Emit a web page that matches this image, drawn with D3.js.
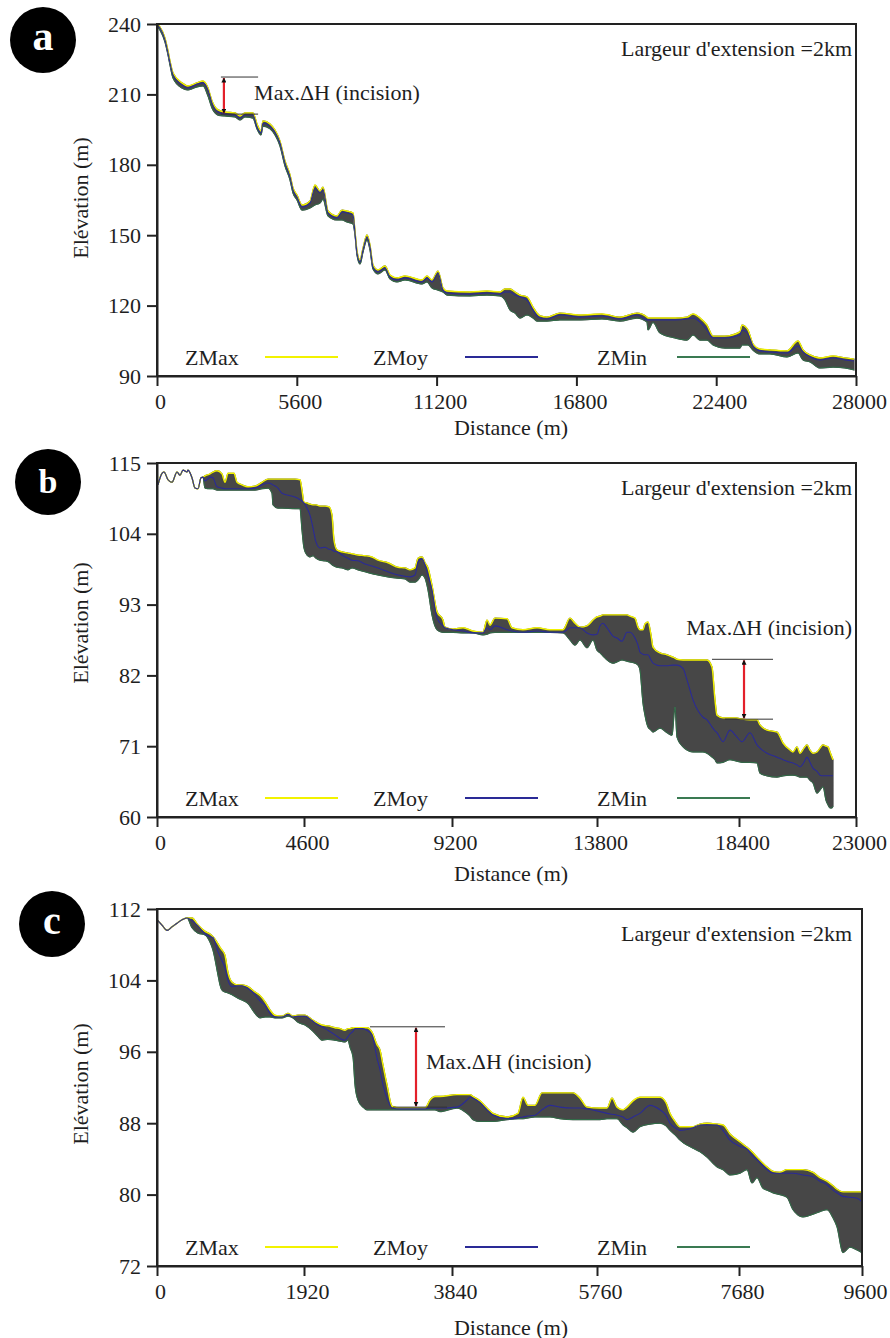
<!DOCTYPE html>
<html><head><meta charset="utf-8">
<script src="https://cdn.jsdelivr.net/npm/d3@7"></script>
<style>
body{margin:0;background:#fff}
svg{display:block}
text{font-family:"Liberation Serif","Times New Roman",serif;fill:#1e1e1e}
</style>
</head><body>
<svg id="chart" width="890" height="1338"></svg>
<script>
// ---------------- DATA ----------------
// Panel a
const xTicksA = [0, 5600, 11200, 16800, 22400, 28000];
const yTicksA = [90, 120, 150, 180, 210, 240];
const distA = [0,120,320,441,521,641,1001,1242,1602,1843,
2043,2203,2443,2724,3124,3325,3525,3845,4006,4166,
4246,4526,4727,4927,5127,5328,5448,5608,5808,6129,
6329,6529,6649,6850,7210,7411,7611,7851,7931,8011,
8132,8252,8412,8532,8652,8853,9133,9333,9614,9934,
10615,10815,11016,11256,11456,11617,12538,13219,13740,13940,
14140,14340,14541,14821,15061,15222,15342,15622,16143,16944,
17825,18546,19227,19628,19668,19868,20149,20750,21230,21471,
21751,22031,22272,22752,23353,23433,23674,23874,24154,24555,
25236,25677,25877,26157,26558,27079,27559,27920];
const zmaxA = [240,238.7,234.0,228.5,224.2,219.1,214.9,213.6,214.9,215.7,
212.7,207.2,203.4,202.5,202.1,200.8,202.1,202.1,197.4,194.4,
198.7,197.4,194.8,190.1,181.6,175.7,170.1,167.1,162.9,164.6,
171.4,168.8,170.5,160.3,158.2,160.7,160.3,159.5,151.8,143.3,
139.4,144.5,150.1,145.8,137.3,135.2,136.9,133.0,131.8,132.6,
130.9,132.6,130.9,134.7,127.5,126.2,125.8,126.2,125.8,127.1,
127.1,125.8,124.5,123.7,119.4,116.8,115.6,115.1,116.8,116.0,
116.4,115.1,116.8,115.1,114.7,114.7,114.7,114.7,115.1,116.4,
114.7,111.7,107.0,107.0,108.8,111.7,109.6,103.6,101.5,101.1,
100.7,104.9,101.1,99.0,97.7,98.5,97.7,97.2];
const zmoyA = [239.6,238.3,233.2,227.6,223.4,218.3,214.0,212.7,214.4,214.9,
211.9,206.3,202.5,201.6,201.2,199.9,201.2,201.2,196.1,193.6,
197.8,196.5,194.0,189.3,180.8,174.8,169.3,166.3,162.0,163.7,
170.1,168.0,169.3,159.5,157.3,159.9,159.5,158.6,150.9,142.4,
138.6,143.7,149.2,145.0,136.4,134.3,136.0,132.2,130.9,131.8,
130.1,131.8,130.1,133.9,126.6,125.4,124.9,125.4,124.9,125.8,
125.8,124.5,123.7,122.4,118.1,115.6,114.7,114.3,116.0,115.1,
115.6,114.3,116.0,113.9,113.9,113.9,113.9,113.9,114.3,114.7,
113.0,109.6,106.2,106.2,107.5,109.6,107.9,102.8,100.7,100.2,
99.8,102.8,100.2,98.1,96.8,97.7,96.8,96.4];
const zminA = [239.1,237.4,232.3,226.8,222.5,217.0,212.7,211.9,213.2,213.6,
209.3,204.2,201.2,200.8,200.4,199.1,200.4,199.9,195.3,192.7,
196.5,195.3,192.7,188.0,179.5,173.5,168.0,165.0,160.7,161.6,
162.9,163.7,165.4,158.2,156.5,156.5,155.6,154.8,150.1,141.6,
137.7,142.8,148.0,143.7,135.6,133.5,135.2,131.3,130.1,130.9,
129.2,130.1,127.5,126.6,125.8,124.5,124.1,124.5,124.1,122.4,
118.1,116.8,114.7,116.0,114.7,113.4,113.4,113.4,113.9,113.9,
114.3,113.4,114.7,113.0,109.6,112.8,108.3,106.2,105.3,107.5,
105.3,105.3,103.2,101.9,101.9,103.2,103.2,101.0,99.4,99.4,
98.1,99.8,96.8,96.0,93.4,93.8,93.4,92.6];
const annotA = {x0: 2560, x1: 4050, xArrow: 2680, hTop: 217.4, hBottom: 201.6, textX: 3890, textY: 210.6};

// Panel b
const xTicksB = [0, 4600, 9200, 13800, 18400, 23000];
const yTicksB = [60, 71, 82, 93, 104, 115];
const distB = [31,156,219,344,469,626,720,814,939,970,1095,1189,1283,1377,1439,
1502,1659,1752,1878,2034,2128,2222,2410,2503,2660,
2848,3067,3286,3474,3599,3630,3786,3912,4318,4475,
4537,4600,4693,4786,4880,4973,5097,5253,5377,5470,
5532,5626,5781,5968,6092,6278,6496,6714,6900,7211,
7522,7739,7895,8050,8143,8268,8361,8454,8578,8734,
8920,8982,9232,9549,9866,10183,10310,10405,10564,10945,
11103,11452,11897,12309,12721,12943,13102,13261,13483,13673,
13800,13897,13994,14124,14318,14448,14610,14772,14869,15031,
15128,15193,15290,15355,15452,15549,15614,15841,16068,16230,
16327,16392,16586,16715,16910,17234,17363,17525,17622,17687,
17882,18108,18303,18518,18832,19108,19226,19501,19894,20130,
20405,20521,20680,20798,20955,21073,21191,21309,21467,21586,
21703,21821,21899,21978,22056,22096];
const zmaxB = [111.6,113.4,113.6,112.4,112.0,113.6,113.1,113.9,113.6,113.9,112.7,111.1,111.0,112.7,112.8,
113.0,113.3,113.6,113.8,113.3,112.0,113.4,113.4,112.0,111.6,
111.3,111.4,112.0,112.5,112.5,112.5,112.5,112.5,112.5,112.4,
110.8,108.9,108.8,108.6,108.5,108.5,108.3,108.3,108.2,106.9,
103.0,101.5,101.2,101.0,100.9,100.7,100.6,100.4,99.9,99.5,
98.8,98.7,98.4,98.7,100.2,100.4,99.5,98.7,96.0,91.9,
90.6,89.5,89.2,89.4,88.9,88.7,90.6,89.8,90.9,90.8,
89.4,89.1,89.4,89.1,89.1,90.9,90.1,89.5,89.7,90.6,
91.1,91.2,91.4,91.4,91.4,91.4,91.4,91.4,91.2,90.9,
89.5,89.1,89.1,90.0,90.3,88.3,86.4,85.5,85.2,84.9,
84.7,84.5,84.4,84.4,84.4,84.4,84.4,83.3,78.2,75.8,
75.4,75.4,75.4,75.2,75.1,75.1,74.3,73.5,73.2,71.5,
70.4,70.1,70.9,69.9,70.7,71.2,70.4,69.9,70.1,70.7,
71.2,71.0,70.9,70.1,69.3,68.9];
const zmoyB = [111.6,113.4,113.6,112.4,112.0,113.6,113.1,113.9,113.6,113.9,112.7,111.1,111.0,112.7,112.8,
112.2,112.8,112.7,111.3,111.1,111.0,111.0,111.0,111.0,111.0,
111.0,111.1,111.6,111.9,111.7,111.6,111.1,110.3,109.7,109.3,
109.1,108.8,108.0,106.9,104.9,102.7,101.8,101.9,101.6,101.5,
101.3,101.2,100.7,100.2,99.9,99.8,99.3,99.0,98.7,98.1,
97.6,97.4,97.3,97.6,99.6,100.1,99.2,97.6,95.3,90.9,
89.7,89.4,89.1,88.9,88.6,88.6,89.4,89.1,89.7,89.1,
88.9,88.7,88.9,88.7,88.7,89.4,89.4,89.4,88.6,88.3,
88.4,89.7,90.1,89.4,88.1,87.8,87.3,88.7,88.7,87.8,
86.7,85.6,85.3,85.2,85.2,84.4,83.9,83.5,83.5,83.6,
83.6,83.6,83.1,81.3,78.2,75.5,75.1,74.0,73.4,73.1,
71.7,73.5,72.6,71.7,73.1,71.2,70.7,69.9,69.3,68.9,
68.5,68.4,68.1,67.8,68.5,69.3,68.5,67.6,67.1,66.5,
66.4,66.4,66.4,66.4,66.4,66.4];
const zminB = [111.6,113.4,113.6,112.4,112.0,113.6,113.1,113.9,113.6,113.9,112.7,111.1,111.0,112.7,112.8,
111.1,111.0,111.0,110.8,110.8,110.8,110.8,110.8,110.8,110.8,
110.8,110.8,111.0,111.1,110.3,108.5,108.0,108.0,107.9,107.9,
104.6,101.8,100.7,100.4,100.6,100.2,99.9,99.8,99.6,99.2,
99.0,98.8,98.7,98.4,98.7,98.4,98.1,97.8,97.6,97.3,
97.1,97.0,96.5,96.5,96.8,97.6,97.1,95.3,91.4,89.1,
88.7,88.7,88.7,88.6,88.6,88.3,88.4,88.6,88.7,88.7,
88.7,88.7,88.7,88.7,88.6,87.5,86.7,87.5,86.3,87.5,
85.9,85.5,85.0,84.4,83.9,84.1,84.4,84.2,84.1,83.9,
83.6,82.8,77.7,75.8,74.0,73.5,73.2,73.8,73.1,72.7,
77.1,72.4,70.9,70.4,70.1,70.1,69.9,69.3,68.9,68.4,
68.5,68.9,68.7,68.5,68.5,68.4,66.8,66.4,66.2,66.4,
66.5,66.5,66.4,66.2,66.2,66.2,65.7,65.3,63.7,64.2,
64.7,62.6,61.9,61.4,61.4,61.7];
const annotB = {x0: 17525, x0b: 17946, x1: 19737, xArrow: 18597, hTop: 84.5, hBottom: 75.2, textY: 89.5};

// Panel c
const xTicksC = [0, 1920, 3840, 5760, 7680, 9600];
const yTicksC = [72, 80, 88, 96, 104, 112];
const distC = [0,65,131,196,261,327,392,
457,536,627,692,731,797,823,849,888,927,
980,1058,1110,1189,1280,1345,1411,1476,1541,1633,
1711,1776,1842,1933,2024,2102,2154,2231,2322,2387,
2452,2491,2517,2556,2582,2621,2685,2737,2802,2867,
2906,2945,2997,3062,3165,3360,3490,3555,3619,3684,
3906,4039,4078,4118,4211,4303,4383,4568,4714,4780,
4846,4939,5032,5138,5270,5442,5535,5628,5801,5895,
5963,6030,6112,6166,6247,6341,6477,6612,6693,6747,
6815,6882,7058,7153,7247,7383,7464,7558,7696,7805,
7883,7961,8055,8117,8211,8320,8429,8523,8679,8835,
8944,9054,9147,9210,9303,9413,9522,9600];
const zmaxC = [110.8,110.2,109.6,110.0,110.4,110.8,111.0,
111.0,110.2,109.5,109.2,108.9,108.1,107.7,107.4,106.8,104.9,
103.8,103.5,103.5,103.3,102.7,102.3,101.6,100.7,100.1,100.0,
100.3,100.0,100.1,100.1,99.6,99.2,99.0,98.9,98.7,98.6,
98.4,98.6,98.6,98.7,98.7,98.7,98.7,98.7,98.2,96.8,
96.2,94.5,92.3,89.9,89.7,89.7,89.7,90.6,91.0,91.0,
91.2,91.2,91.2,91.0,90.5,89.7,89.1,88.7,89.1,90.9,
90.0,90.0,91.4,91.4,91.4,91.4,90.8,89.8,89.7,89.7,
90.8,89.8,89.5,89.8,90.5,90.9,90.9,90.9,90.3,89.1,
88.2,87.6,87.6,87.9,88.0,87.9,87.8,86.8,85.9,85.3,
84.8,84.2,83.5,83.1,82.6,82.5,82.8,82.8,82.8,82.5,
81.9,81.5,81.0,80.6,80.3,80.3,80.3,80.3];
const zmoyC = [110.8,110.2,109.6,110.0,110.4,110.8,111.0,
110.7,110.1,109.2,108.9,108.8,107.2,106.7,106.2,105.4,104.0,
103.3,103.4,103.4,103.1,102.4,101.7,101.2,100.3,99.9,99.9,
100.2,99.9,100.0,100.0,99.5,99.0,98.8,98.4,97.9,97.5,
97.3,97.7,98.0,98.3,98.6,98.6,98.6,98.4,97.9,95.3,
94.0,92.3,90.8,89.7,89.6,89.6,89.6,89.7,89.7,89.7,
89.8,90.6,90.9,90.8,90.3,89.5,88.9,88.5,88.6,88.7,
88.8,88.9,89.5,90.0,89.8,89.7,89.7,89.6,89.3,89.1,
89.0,88.9,88.7,88.4,88.7,89.1,90.0,89.5,88.9,88.0,
87.5,87.2,87.5,87.8,87.8,87.8,87.2,86.1,85.4,85.1,
84.4,83.9,83.2,82.8,82.4,82.4,82.4,82.4,82.2,82.0,
81.5,81.1,80.5,80.2,79.8,79.7,79.6,79.2];
const zminC = [110.8,110.2,109.6,110.0,110.4,110.8,111.0,
109.9,109.3,109.1,108.3,107.4,104.6,103.5,102.9,102.7,102.6,
102.4,102.0,101.8,101.4,100.3,99.8,99.9,99.9,99.8,99.8,
100.0,99.8,99.3,99.0,98.4,97.7,97.3,97.4,97.3,97.2,
97.1,97.3,96.5,95.4,92.3,90.6,89.8,89.5,89.5,89.5,
89.5,89.5,89.5,89.5,89.5,89.5,89.5,89.5,89.5,89.3,
89.7,89.1,88.8,88.4,88.2,88.2,88.2,88.4,88.5,88.5,
88.6,88.7,88.7,88.7,88.5,88.4,88.4,88.4,88.4,88.5,
88.5,88.5,87.8,87.5,87.0,87.6,87.9,88.0,87.7,87.2,
86.7,86.1,85.2,84.8,84.2,83.1,82.8,82.2,82.4,82.8,
81.3,81.9,80.7,80.5,80.2,80.0,79.7,78.3,77.5,77.8,
78.1,78.3,77.4,76.4,73.5,74.1,73.8,73.5];
const annotC = {x0: 2776, x1: 3749, x0b: 3075, x1b: 3775, xArrow: 3373, hTop: 98.8, hBottom: 89.8, textX: 3503, textY: 94.9};

const legendNames = ["ZMax", "ZMoy", "ZMin"];
const extensionLabel = "Largeur d'extension =2km";
const incisionLabel = "Max.\u0394H (incision)";

// ---------------- DRAW ----------------
const svg = d3.select("#chart");
const defs = svg.append("defs");
defs.append("marker").attr("id","ah").attr("viewBox","0 0 10 10").attr("refX",9).attr("refY",5)
  .attr("markerWidth",5).attr("markerHeight",5).attr("orient","auto-start-reverse").attr("markerUnits","userSpaceOnUse")
  .append("path").attr("d","M0,0 L10,5 L0,10 z").attr("fill","#111");

const COLORS = {band:"#474747", max:"#f2f200", moy:"#2a2a96", min:"#2f7048"};
const L = 157;
const TEXT_RIGHT = 852;

function drawPanel(p) {
  const g = svg.append("g");
  const x = d3.scaleLinear().domain(p.xTicks).range(p.xOffsets.map(o => L + o));
  const y = d3.scaleLinear().domain([p.yTicks[0], p.yTicks[p.yTicks.length-1]]).range([p.bottom, p.top]);
  const right = L + p.xOffsets[p.xOffsets.length-1];
  const idx = d3.range(p.dist.length);

  const clipId = "clip" + p.letter;
  defs.append("clipPath").attr("id", clipId).append("rect")
    .attr("x", L).attr("y", p.top).attr("width", right - L).attr("height", p.bottom - p.top);

  const plot = g.append("g").attr("clip-path", `url(#${clipId})`);
  const area = d3.area().x(i => x(p.dist[i])).y0(i => y(p.zmin[i])).y1(i => y(p.zmax[i])).curve(d3.curveMonotoneX);
  plot.append("path").attr("d", area(idx)).attr("fill", COLORS.band).attr("stroke", COLORS.band).attr("stroke-width", 1.2);
  const line = arr => d3.line().x(i => x(p.dist[i])).y(i => y(arr[i])).curve(d3.curveMonotoneX)(idx);
  plot.append("path").attr("d", line(p.zmin)).attr("fill","none").attr("stroke", COLORS.min).attr("stroke-width", 1);
  plot.append("path").attr("d", line(p.zmax)).attr("fill","none").attr("stroke", COLORS.max).attr("stroke-width", 1.4);
  plot.append("path").attr("d", line(p.zmoy)).attr("fill","none").attr("stroke", COLORS.moy).attr("stroke-width", 1.1);

  // frame
  g.append("rect").attr("x", L).attr("y", p.top).attr("width", right - L).attr("height", p.bottom - p.top)
    .attr("fill","none").attr("stroke","#222").attr("stroke-width",2);

  // axes
  const ax = g.append("g").attr("transform", `translate(0,${p.bottom})`)
    .call(d3.axisBottom(x).tickValues(p.xTicks).tickFormat(d3.format("d")).tickSize(10).tickSizeOuter(0).tickPadding(7));
  const ay = g.append("g").attr("transform", `translate(${L},0)`)
    .call(d3.axisLeft(y).tickValues(p.yTicks).tickFormat(d3.format("d")).tickSize(10).tickSizeOuter(0).tickPadding(6));
  [ax, ay].forEach(a => {
    a.select(".domain").attr("stroke","#222").attr("stroke-width",2);
    a.selectAll(".tick line").attr("stroke","#222").attr("stroke-width",2);
    a.selectAll(".tick text").attr("font-size",22).attr("font-family",'"Liberation Serif","Times New Roman",serif').attr("fill","#1e1e1e");
  });
  ax.selectAll(".tick text").attr("dx", 3);

  // axis titles
  g.append("text").attr("x", 511).attr("y", p.bottom + p.xTitleDy).attr("text-anchor","middle")
    .attr("dominant-baseline","central").attr("font-size",22).text("Distance (m)");
  g.append("text").attr("transform", `translate(80,${p.yTitleY}) rotate(-90)`).attr("text-anchor","middle")
    .attr("dominant-baseline","central").attr("font-size",22).text("Elévation (m)");

  // extension label
  g.append("text").attr("x", TEXT_RIGHT).attr("y", p.top + 24).attr("text-anchor","end")
    .attr("dominant-baseline","central").attr("font-size",22).text(extensionLabel);

  // legend
  const ly = p.bottom - 19;
  const lcol = [COLORS.max, COLORS.moy, "#3a7a52"];
  const textX = [185, 373, 597], lineX = [265, 465, 677];
  legendNames.forEach((n, i) => {
    g.append("text").attr("x", textX[i]).attr("y", ly).attr("dominant-baseline","central").attr("font-size",22).text(n);
    g.append("line").attr("x1", lineX[i]).attr("x2", lineX[i] + 73).attr("y1", ly).attr("y2", ly)
      .attr("stroke", lcol[i]).attr("stroke-width", 2.2);
  });

  // incision annotation
  const a = p.annot;
  g.append("line").attr("x1", x(a.x0)).attr("x2", x(a.x1)).attr("y1", y(a.hTop)).attr("y2", y(a.hTop))
    .attr("stroke","#333").attr("stroke-width",1);
  g.append("line").attr("x1", x(a.x0b !== undefined ? a.x0b : a.x0)).attr("x2", x(a.x1b !== undefined ? a.x1b : a.x1))
    .attr("y1", y(a.hBottom)).attr("y2", y(a.hBottom)).attr("stroke","#333").attr("stroke-width",1);
  g.append("line").attr("x1", x(a.xArrow)).attr("x2", x(a.xArrow)).attr("y1", y(a.hTop) + 1).attr("y2", y(a.hBottom) - 1)
    .attr("stroke","#e3202a").attr("stroke-width",2.2).attr("marker-start","url(#ah)").attr("marker-end","url(#ah)");
  const t = g.append("text").attr("y", y(a.textY)).attr("dominant-baseline","central").attr("font-size",22).text(incisionLabel);
  if (a.textX !== undefined) t.attr("x", x(a.textX));
  else t.attr("x", TEXT_RIGHT).attr("text-anchor","end");

  // panel letter
  g.append("circle").attr("cx", p.cx).attr("cy", p.cy).attr("r", 33).attr("fill","#000");
  g.append("text").attr("x", p.cx).attr("y", p.cy + p.letterDy).attr("text-anchor","middle")
    .attr("font-size", p.letterSize).attr("font-weight","bold").style("fill","#fff").text(p.letter);
}

drawPanel({letter:"a", dist:distA, zmax:zmaxA, zmoy:zmoyA, zmin:zminA, xTicks:xTicksA, yTicks:yTicksA,
  xOffsets:[0,139.8,279.6,419.4,559.2,699], top:24, bottom:376, xTitleDy:51, yTitleY:198, annot:annotA,
  cx:43, cy:40, letterSize:42, letterDy:10});
drawPanel({letter:"b", dist:distB, zmax:zmaxB, zmoy:zmoyB, zmin:zminB, xTicks:xTicksB, yTicks:yTicksB,
  xOffsets:[0,147,295,440,582,699], top:463, bottom:817, xTitleDy:56, yTitleY:623, annot:annotB,
  cx:48, cy:482, letterSize:34, letterDy:11});
drawPanel({letter:"c", dist:distC, zmax:zmaxC, zmoy:zmoyC, zmin:zminC, xTicks:xTicksC, yTicks:yTicksC,
  xOffsets:[0,147,295,440,582,705], top:909, bottom:1266, xTitleDy:61, yTitleY:1084, annot:annotC,
  cx:52, cy:924, letterSize:40, letterDy:10});
</script>
</body></html>
